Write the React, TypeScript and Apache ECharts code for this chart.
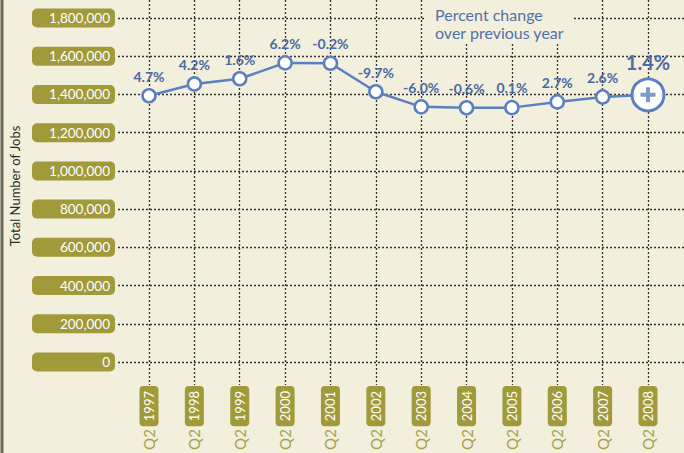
import React, { useEffect, useRef } from "react";
import * as echarts from "echarts";

const categories = ["1997", "1998", "1999", "2000", "2001", "2002", "2003", "2004", "2005", "2006", "2007", "2008"];
const quarter = "Q2";
const jobs = [1393000, 1455000, 1482000, 1565000, 1563000, 1414000, 1335000, 1330000, 1331000, 1361000, 1387000, 1398000];
const pctChange = ["4.7%", "4.2%", "1.6%", "6.2%", "-0.2%", "-9.7%", "-6.0%", "-0.6%", "0.1%", "2.7%", "2.6%", "1.4%"];
const yMin = 0;
const yMax = 1800000;
const yInterval = 200000;
const yTitle = "Total Number of Jobs";
const noteLines = ["Percent change", "over previous year"];

const BG = "#F2EFDC";
const OLIVE = "#A09A3A";
const BLUE = "#5B7FC0";
const BLUE_TXT = "#4A68A3";
const FONT = "Lato, 'Open Sans', sans-serif";
const GRIDLINE = { color: "#333", width: 1.3, type: [2, 2] as number[] };

export default function App() {
  const ref = useRef<HTMLDivElement>(null);
  useEffect(() => {
    if (!ref.current) return;
    const chart = echarts.init(ref.current, null, { renderer: "svg" });
    const last = jobs.length - 1;
    const lineData = jobs.map((v, i) =>
      i === last
        ? {
            value: v,
            symbolSize: 32,
            itemStyle: { borderWidth: 3 },
            label: { fontSize: 20, distance: 5, color: "#4F6BA6" },
          }
        : v
    );
    chart.setOption({
      animation: false,
      backgroundColor: BG,
      grid: [
        { left: 118, right: 0, top: 18, bottom: 91 },
        { left: 149, right: 36, top: 18, bottom: 91 },
        { left: 149, right: 36, top: 0, bottom: 68 },
      ],
      xAxis: [
        { gridIndex: 0, type: "value", show: false, min: 0, max: 1 },
        { gridIndex: 1, type: "category", data: categories, boundaryGap: false, show: false },
        {
          gridIndex: 2,
          type: "category",
          data: categories,
          boundaryGap: false,
          axisLine: { show: false },
          axisTick: { show: false },
          splitLine: { show: true, lineStyle: GRIDLINE },
          axisLabel: {
            interval: 0,
            rotate: 90,
            margin: 1,
            formatter: (v: string) => `{q|${quarter}}{g|}{p|${v}}`,
            rich: {
              q: { color: "#A9A34A", fontSize: 15, fontFamily: FONT, verticalAlign: "middle" },
              g: { width: 3 },
              p: {
                color: "#fff",
                fontSize: 13,
                fontFamily: FONT,
                backgroundColor: OLIVE,
                borderRadius: 4,
                padding: [3, 5, 3, 5],
                verticalAlign: "middle",
              },
            },
          },
        },
      ],
      yAxis: [
        {
          gridIndex: 0,
          type: "value",
          min: yMin,
          max: yMax,
          interval: yInterval,
          axisLine: { show: false },
          axisTick: { show: false },
          splitLine: { show: true, lineStyle: GRIDLINE },
          axisLabel: {
            margin: 3,
            formatter: (v: number) => v.toLocaleString("en-US"),
            color: "#fff",
            fontSize: 13.5,
            fontFamily: FONT,
            backgroundColor: OLIVE,
            borderRadius: 5,
            width: 73,
            align: "right",
            padding: [3, 5, 2, 5],
          },
        },
        { gridIndex: 1, type: "value", min: yMin, max: yMax, show: false },
        { gridIndex: 2, type: "value", show: false },
      ],
      graphic: [
        { type: "line", shape: { x1: 2, y1: 0, x2: 2, y2: 453 }, style: { stroke: "#6C685C", lineWidth: 3 } },
        {
          type: "text",
          x: 15,
          y: 186,
          rotation: Math.PI / 2,
          style: {
            text: yTitle,
            fill: "#2b2b2b",
            font: `13px ${FONT}`,
            align: "center",
            verticalAlign: "middle",
          },
        },
        { type: "rect", shape: { x: 424, y: 0, width: 150, height: 42 }, style: { fill: BG }, z: 10 },
        {
          type: "text",
          x: 435,
          y: 5,
          z: 11,
          style: {
            text: noteLines.join("\n"),
            fill: "#5470A8",
            font: `16px ${FONT}`,
            lineHeight: 18,
          },
        },
      ],
      series: [
        {
          type: "line",
          xAxisIndex: 1,
          yAxisIndex: 1,
          data: lineData,
          symbol: "circle",
          symbolSize: 13,
          lineStyle: { color: BLUE, width: 2.5 },
          itemStyle: { color: "#fff", borderColor: BLUE, borderWidth: 2.5 },
          label: {
            show: true,
            position: "top",
            distance: 5,
            formatter: (p: any) => pctChange[p.dataIndex],
            color: BLUE_TXT,
            fontWeight: "bold",
            fontSize: 14,
            fontFamily: FONT,
          },
          z: 3,
        },
        {
          type: "scatter",
          xAxisIndex: 1,
          yAxisIndex: 1,
          data: [[categories[last], jobs[last]]],
          symbol: "path://M5.5,0 H9.5 V5.5 H15 V9.5 H9.5 V15 H5.5 V9.5 H0 V5.5 H5.5 Z",
          symbolSize: 15,
          itemStyle: { color: BLUE },
          silent: true,
          z: 4,
        },
      ],
    });
    return () => chart.dispose();
  }, []);
  return <div ref={ref} style={{ width: 684, height: 453, position: "fixed", left: 0, top: 0 }} />;
}
